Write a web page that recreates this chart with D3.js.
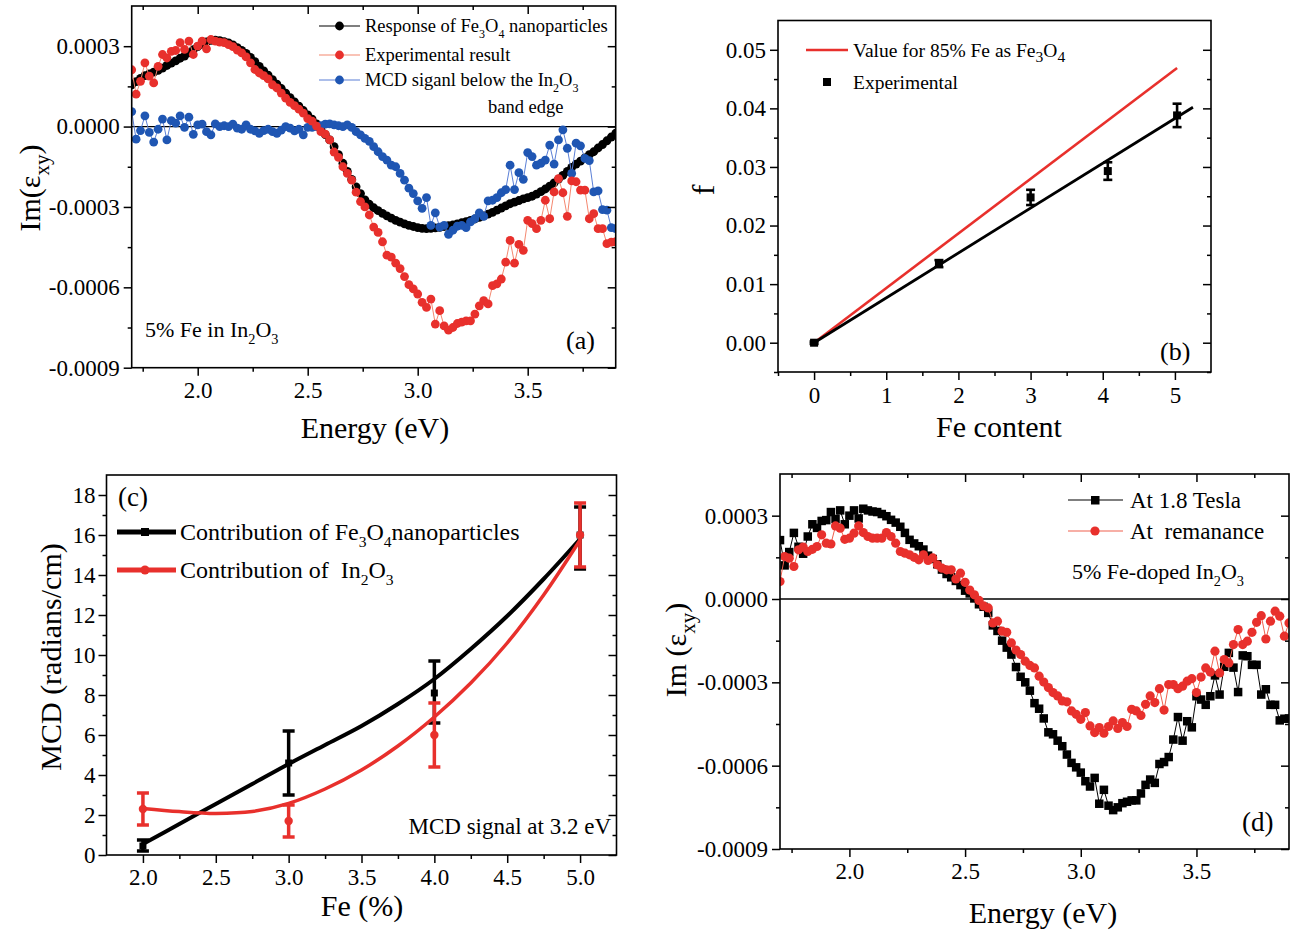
<!DOCTYPE html>
<html><head><meta charset="utf-8">
<script src="https://cdn.jsdelivr.net/npm/d3@7"></script>
<style>
html,body{margin:0;padding:0;background:#fff;}
svg text{font-family:"Liberation Serif","Times New Roman",serif;fill:#000;white-space:pre;}
</style></head><body>
<script>
// ---------- DATA ----------
// Photon energy grid (eV) for panels (a) and (d)
const energy = [
 1.70,1.72,1.74,1.76,1.78,1.80,1.82,1.84,1.86,1.88,
 1.90,1.92,1.94,1.96,1.98,2.00,2.02,2.04,2.06,2.08,
 2.10,2.12,2.14,2.16,2.18,2.20,2.22,2.24,2.26,2.28,
 2.30,2.32,2.34,2.36,2.38,2.40,2.42,2.44,2.46,2.48,
 2.50,2.52,2.54,2.56,2.58,2.60,2.62,2.64,2.66,2.68,
 2.70,2.72,2.74,2.76,2.78,2.80,2.82,2.84,2.86,2.88,
 2.90,2.92,2.94,2.96,2.98,3.00,3.02,3.04,3.06,3.08,
 3.10,3.12,3.14,3.16,3.18,3.20,3.22,3.24,3.26,3.28,
 3.30,3.32,3.34,3.36,3.38,3.40,3.42,3.44,3.46,3.48,
 3.50,3.52,3.54,3.56,3.58,3.60,3.62,3.64,3.66,3.68,
 3.70,3.72,3.74,3.76,3.78,3.80,3.82,3.84,3.86,3.88,
 3.90];
// Im(eps_xy) in units of 1e-4
// (a) Response of Fe3O4 nanoparticles
const aFe3O4 = [
 1.56,1.68,1.80,1.90,1.97,2.03,2.10,2.18,2.28,2.37,
 2.45,2.55,2.63,2.75,2.87,2.98,3.08,3.16,3.22,3.23,
 3.21,3.17,3.12,3.05,2.95,2.84,2.73,2.58,2.42,2.25,
 2.08,1.92,1.75,1.58,1.42,1.25,1.08,0.92,0.76,0.60,
 0.44,0.28,0.10,-0.10,-0.30,-0.50,-0.75,-1.05,-1.37,-1.67,
 -1.97,-2.25,-2.50,-2.74,-2.90,-3.03,-3.14,-3.24,-3.33,-3.42,
 -3.50,-3.57,-3.63,-3.69,-3.73,-3.77,-3.80,-3.81,-3.80,-3.78,
 -3.76,-3.73,-3.70,-3.67,-3.63,-3.59,-3.55,-3.50,-3.45,-3.39,
 -3.33,-3.27,-3.20,-3.12,-3.04,-2.96,-2.88,-2.82,-2.76,-2.70,
 -2.65,-2.60,-2.52,-2.43,-2.33,-2.22,-2.10,-1.96,-1.82,-1.67,
 -1.52,-1.40,-1.29,-1.17,-1.05,-0.94,-0.80,-0.67,-0.53,-0.39,
 -0.25];
// (a) Experimental result  == (d) At 1.8 Tesla
const aExperimental = [
 2.12,1.21,1.69,2.38,1.88,1.63,2.25,2.69,2.56,2.81,
 2.84,3.13,2.88,3.19,2.69,3.00,3.19,2.90,3.25,3.19,
 3.15,3.13,3.06,2.98,2.85,2.75,2.60,2.38,2.13,2.00,
 1.90,1.78,1.56,1.44,1.25,1.06,0.90,0.78,0.65,0.50,
 0.30,0.20,0.02,-0.19,-0.28,-0.50,-0.95,-1.15,-1.50,-1.75,
 -2.00,-2.45,-2.80,-3.00,-3.30,-3.75,-3.95,-4.30,-4.80,-4.87,
 -5.10,-5.30,-5.60,-5.90,-6.06,-6.25,-6.56,-6.75,-6.44,-7.37,
 -6.87,-7.44,-7.60,-7.50,-7.35,-7.30,-7.25,-7.25,-7.00,-6.69,
 -6.50,-6.62,-5.94,-5.87,-5.69,-5.06,-4.25,-5.10,-4.40,-4.62,
 -3.50,-3.62,-3.81,-3.50,-2.75,-3.44,-2.44,-1.94,-2.47,-3.35,
 -2.03,-2.06,-2.37,-2.37,-3.44,-3.25,-3.81,-3.81,-4.37,-4.31,
 -4.30];
// (a) MCD signal below the In2O3 band edge
const aBelowEdge = [
 0.56,-0.47,-0.15,0.40,-0.22,-0.58,-0.10,0.28,-0.50,0.22,
 0.13,0.40,-0.03,0.35,-0.29,0.06,0.09,-0.19,-0.31,0.10,
 0.00,0.03,0.00,0.09,-0.06,-0.10,0.06,-0.10,-0.16,-0.25,
 -0.15,-0.10,-0.19,-0.25,-0.13,0.00,-0.06,-0.16,-0.10,-0.31,
 -0.03,-0.03,0.00,0.03,0.09,0.10,0.06,0.03,0.00,0.06,
 -0.03,-0.19,-0.31,-0.44,-0.55,-0.75,-0.94,-1.12,-1.25,-1.44,
 -1.50,-1.75,-2.00,-2.30,-2.50,-2.77,-3.05,-2.65,-3.69,-3.22,
 -3.75,-3.69,-4.02,-3.87,-3.72,-3.69,-3.77,-3.56,-3.44,-3.22,
 -3.35,-2.77,-2.75,-2.65,-2.47,-2.35,-1.44,-2.35,-1.72,-1.97,
 -0.97,-1.12,-1.44,-1.37,-1.25,-0.69,-1.40,-0.50,-0.12,-0.81,
 -1.75,-0.62,-0.72,-1.19,-1.27,-2.44,-2.40,-3.10,-3.12,-3.77,
 -3.81];
// (d) At 1.8 Tesla (same measurement as (a) experimental)
const dTesla = aExperimental;
// (d) At remanance
const dRemanance = [
 0.63,1.53,1.47,1.17,1.77,1.87,1.71,1.79,1.89,2.31,
 2.01,1.98,2.63,2.55,2.15,2.19,2.37,2.63,2.39,2.25,
 2.19,2.19,2.19,2.39,2.25,2.01,1.71,1.65,1.59,1.50,
 1.41,1.59,1.39,1.48,1.23,1.11,1.05,1.05,0.72,0.93,
 0.60,0.32,0.15,-0.05,-0.25,-0.32,-0.86,-0.80,-1.16,-1.20,
 -1.58,-1.84,-2.00,-2.24,-2.39,-2.48,-2.78,-2.99,-3.19,-3.37,
 -3.49,-3.67,-3.70,-4.03,-4.15,-4.33,-4.09,-4.57,-4.81,-4.63,
 -4.83,-4.59,-4.39,-4.66,-4.45,-4.59,-3.97,-4.03,-4.19,-3.79,
 -3.49,-3.73,-3.23,-4.00,-3.08,-3.08,-3.23,-3.14,-2.96,-2.87,
 -3.37,-2.81,-2.48,-2.63,-1.88,-2.66,-2.18,-2.30,-1.64,-1.10,
 -1.64,-1.52,-1.20,-0.84,-0.60,-1.44,-0.80,-0.44,-0.62,-1.34,
 -0.86];
const imTicks = [-9,-6,-3,0,3];
const imTickLabels = ["-0.0009","-0.0006","-0.0003","0.0000","0.0003"];
const imMinor = [-7.5,-4.5,-1.5,1.5];
const eTicks = [2.0,2.5,3.0,3.5];
const eTickLabels = ["2.0","2.5","3.0","3.5"];
const eMinor = [1.75,2.25,2.75,3.25,3.75];

// (b) f vs Fe content
const bFe = [0, 1.73, 3.0, 4.07, 5.03];
const bF = [0, 0.0135, 0.0248, 0.0293, 0.0388];
const bErr = [0.0002, 0.0006, 0.0013, 0.0015, 0.0020];
const bFitX = [0, 5.25];
const bFitY = [0, 0.0402];
const b85X = [0, 5.03];
const b85Y = [0, 0.0469];
const bXTicks = [0,1,2,3,4,5];
const bXMinor = [-0.5,0.5,1.5,2.5,3.5,4.5];
const bYTicks = [0,0.01,0.02,0.03,0.04,0.05];
const bYTickLabels = ["0.00","0.01","0.02","0.03","0.04","0.05"];
const bYMinor = [-0.005,0.005,0.015,0.025,0.035,0.045];

// (c) MCD at 3.2 eV vs Fe (%)
const cFe = [2.0, 3.0, 4.0, 5.0];
const cFe3O4 = [0.45, 4.6, 8.1, 16.0];
const cFe3O4Lo = [0.2, 3.0, 6.6, 14.3];
const cFe3O4Hi = [0.75, 6.2, 9.7, 17.4];
const cIn2O3 = [2.3, 1.7, 6.0, 16.0];
const cIn2O3Lo = [1.5, 0.9, 4.4, 14.4];
const cIn2O3Hi = [3.1, 2.5, 7.6, 17.6];
const cFitX = [2.0,2.25,2.5,2.75,3.0,3.25,3.5,3.75,4.0,4.25,4.5,4.75,5.0];
const cFe3O4Fit = [0.55,1.55,2.55,3.55,4.55,5.5,6.45,7.55,8.8,10.3,11.95,13.8,15.8];
const cIn2O3Fit = [2.33,2.17,2.08,2.17,2.58,3.3,4.25,5.45,6.9,8.6,10.6,13.0,15.75];
const cXTicks = [2.0,2.5,3.0,3.5,4.0,4.5,5.0];
const cXTickLabels = ["2.0","2.5","3.0","3.5","4.0","4.5","5.0"];
const cXMinor = [2.25,2.75,3.25,3.75,4.25,4.75];
const cYTicks = [0,2,4,6,8,10,12,14,16,18];
const cYMinor = [1,3,5,7,9,11,13,15,17];

// ---------- DRAW ----------
const RED = "#e8302c", BLUE = "#1f56b3";
const SERIF = "'Liberation Serif','Times New Roman',serif";
const svg = d3.select("body").append("svg").attr("width",1290).attr("height",936);
svg.append("rect").attr("width",1290).attr("height",936).attr("fill","#fff");

function rich(parent,x,y,parts,size,anchor){
  const t = parent.append("text").attr("x",x).attr("y",y).attr("font-size",size)
    .attr("text-anchor",anchor||"start").style("font-family",SERIF);
  let cur = 0;
  parts.forEach(p=>{
    const isSub = typeof p !== "string";
    const s = isSub ? p.s : p;
    const off = isSub ? (p.off!=null ? p.off : 0.3)*size : 0;
    const ts = t.append("tspan").attr("dy", off-cur).text(s);
    if (isSub) ts.attr("font-size",(p.k||0.65)*size);
    cur = off;
  });
  return t;
}
function vlabel(x,y,parts,size){
  const g = svg.append("g").attr("transform",`translate(${x},${y}) rotate(-90)`);
  rich(g,0,0,parts,size,"middle");
}
function labelMap(vals,labels){ const m=new Map(vals.map((v,i)=>[v,labels[i]])); return d=>m.get(d); }

function frame(x,y,o){
  const g = svg.append("g");
  const [x0,x1] = x.range(), [yb,yt] = y.range();
  const ax = (gen,tx,ty,vals,size,fmt,pad)=>{
    const a = g.append("g").attr("transform",`translate(${tx},${ty})`)
      .call(gen.tickValues(vals).tickSize(size).tickPadding(pad==null?4:pad).tickFormat(fmt||(()=>"")));
    a.select(".domain").remove();
    a.attr("font-family",null).attr("font-size",null);
    a.selectAll("line").attr("stroke","#000").attr("stroke-width",1.5);
    a.selectAll("text").attr("font-size",o.tickFont||23).attr("fill","#000").style("font-family",SERIF);
    return a;
  };
  ax(d3.axisBottom(x),0,yb,o.xMajor,8,o.xFmt,o.xPad);
  ax(d3.axisBottom(x),0,yb,o.xMinor,4);
  ax(d3.axisLeft(y),x0,0,o.yMajor,8,o.yFmt,o.yPad);
  ax(d3.axisLeft(y),x0,0,o.yMinor,4);
  ax(d3.axisRight(y),x1,0,o.yMajor,-8);
  ax(d3.axisRight(y),x1,0,o.yMinor,-4);
  if (o.top){ ax(d3.axisTop(x),0,yt,o.xMajor,-8); ax(d3.axisTop(x),0,yt,o.xMinor,-4); }
  g.append("rect").attr("x",x0).attr("y",yt).attr("width",x1-x0).attr("height",yb-yt)
    .attr("fill","none").attr("stroke","#000").attr("stroke-width",1.6);
  return g;
}
function clipped(id,x,y){
  const [x0,x1]=x.range(), [yb,yt]=y.range();
  svg.append("clipPath").attr("id",id).append("rect").attr("x",x0).attr("y",yt).attr("width",x1-x0).attr("height",yb-yt);
  return svg.append("g").attr("clip-path",`url(#${id})`);
}
function series(g,x,y,xs,ys,opt){
  const line = d3.line().x((d,i)=>x(xs[i])).y(d=>y(d));
  g.append("path").datum(ys).attr("d",line).attr("fill","none")
    .attr("stroke",opt.line).attr("stroke-width",opt.lw||1);
  if (opt.shape==="square"){
    g.selectAll(null).data(ys).enter().append("rect")
      .attr("x",(d,i)=>x(xs[i])-opt.size/2).attr("y",d=>y(d)-opt.size/2)
      .attr("width",opt.size).attr("height",opt.size).attr("fill",opt.fill);
  } else {
    g.selectAll(null).data(ys).enter().append("circle")
      .attr("cx",(d,i)=>x(xs[i])).attr("cy",d=>y(d)).attr("r",opt.size).attr("fill",opt.fill);
  }
}

// ===== Panel (a) =====
{
  const x = d3.scaleLinear().domain([1.7,3.9]).range([131.7,615.7]);
  const y = d3.scaleLinear().domain([-9,4.5]).range([367.7,6]);
  const g = clipped("clipA",x,y);
  g.append("line").attr("x1",x(1.7)).attr("x2",x(3.9)).attr("y1",y(0)).attr("y2",y(0)).attr("stroke","#000").attr("stroke-width",1.3);
  series(g,x,y,energy,aFe3O4,{line:"#000",fill:"#000",size:4.4});
  series(g,x,y,energy,aBelowEdge,{line:"#5a7fd6",fill:BLUE,size:4.4});
  series(g,x,y,energy,aExperimental,{line:"#f4876f",fill:RED,size:4.4});
  frame(x,y,{xMajor:eTicks,xMinor:eMinor,yMajor:imTicks,yMinor:imMinor,top:true,
    xFmt:labelMap(eTicks,eTickLabels),yFmt:labelMap(imTicks,imTickLabels),xPad:6,yPad:4});
  // legend
  const L = svg.append("g");
  const rows = [
    {y:26,line:"#000",fill:"#000",parts:["Response of Fe",{s:"3"},"O",{s:"4"}," nanoparticles"]},
    {y:55,line:"#f4876f",fill:RED,parts:["Experimental result"]},
    {y:80,line:"#5a7fd6",fill:BLUE,parts:["MCD siganl below the In",{s:"2"},"O",{s:"3"}]}
  ];
  rows.forEach(r=>{
    L.append("line").attr("x1",319).attr("x2",360).attr("y1",r.y).attr("y2",r.y).attr("stroke",r.line).attr("stroke-width",1.2);
    L.append("circle").attr("cx",339.5).attr("cy",r.y).attr("r",4.4).attr("fill",r.fill);
    rich(L,365,r.y+6,r.parts,18.5);
  });
  rich(L,488,113,["band edge"],18.5);
  rich(svg,145,337,["5% Fe in In",{s:"2"},"O",{s:"3"}],22);
  rich(svg,566,349,["(a)"],26);
  rich(svg,375,438,["Energy (eV)"],30,"middle");
  vlabel(40,188,["Im(ε",{s:"xy",off:0.3,k:0.7},")"],30);
}

// ===== Panel (b) =====
{
  const x = d3.scaleLinear().domain([-0.5,5.5]).range([778,1211]);
  const y = d3.scaleLinear().domain([-0.005,0.055]).range([372,20.5]);
  const g = svg.append("g");
  const ln = d3.line().x(d=>x(d[0])).y(d=>y(d[1]));
  g.append("path").datum(b85X.map((v,i)=>[v,b85Y[i]])).attr("d",ln).attr("stroke",RED).attr("stroke-width",2.6).attr("fill","none");
  g.append("path").datum(bFitX.map((v,i)=>[v,bFitY[i]])).attr("d",ln).attr("stroke","#000").attr("stroke-width",2.8).attr("fill","none");
  bFe.forEach((v,i)=>{
    const cx=x(v), lo=y(bF[i]-bErr[i]), hi=y(bF[i]+bErr[i]);
    g.append("line").attr("x1",cx).attr("x2",cx).attr("y1",lo).attr("y2",hi).attr("stroke","#000").attr("stroke-width",2.6);
    [lo,hi].forEach(yy=>g.append("line").attr("x1",cx-4.5).attr("x2",cx+4.5).attr("y1",yy).attr("y2",yy).attr("stroke","#000").attr("stroke-width",2.6));
  });
  g.selectAll(null).data(bF).enter().append("rect")
    .attr("x",(d,i)=>x(bFe[i])-4).attr("y",d=>y(d)-4).attr("width",8).attr("height",8).attr("fill","#000");
  frame(x,y,{xMajor:bXTicks,xMinor:bXMinor,yMajor:bYTicks,yMinor:bYMinor,
    xFmt:d=>String(d),yFmt:labelMap(bYTicks,bYTickLabels),xPad:7,yPad:4});
  svg.append("line").attr("x1",806).attr("x2",848).attr("y1",50).attr("y2",50).attr("stroke",RED).attr("stroke-width",2.6);
  rich(svg,853,57,["Value for 85% Fe as Fe",{s:"3",k:0.8,off:0.25},"O",{s:"4",k:0.8,off:0.25}],19.5);
  svg.append("rect").attr("x",823).attr("y",78).attr("width",8).attr("height",8).attr("fill","#000");
  rich(svg,853,89,["Experimental"],19.5);
  rich(svg,1160,360,["(b)"],26);
  rich(svg,999,437,["Fe content"],30,"middle");
  vlabel(714,190,["f"],32);
}

// ===== Panel (c) =====
{
  const x = d3.scaleLinear().domain([1.75,5.25]).range([106.5,616.5]);
  const y = d3.scaleLinear().domain([0,19]).range([855,475]);
  const g = svg.append("g");
  const curve = d3.line().curve(d3.curveCatmullRom.alpha(0.5)).x((d,i)=>x(cFitX[i])).y(d=>y(d));
  function errs(lo,hi,col){
    cFe.forEach((v,i)=>{
      const cx=x(v);
      g.append("line").attr("x1",cx).attr("x2",cx).attr("y1",y(lo[i])).attr("y2",y(hi[i])).attr("stroke",col).attr("stroke-width",3.5);
      [lo[i],hi[i]].forEach(t=>g.append("line").attr("x1",cx-6).attr("x2",cx+6).attr("y1",y(t)).attr("y2",y(t)).attr("stroke",col).attr("stroke-width",3.5));
    });
  }
  g.append("path").datum(cFe3O4Fit).attr("d",curve).attr("fill","none").attr("stroke","#000").attr("stroke-width",4);
  errs(cFe3O4Lo,cFe3O4Hi,"#000");
  g.selectAll(null).data(cFe3O4).enter().append("rect")
    .attr("x",(d,i)=>x(cFe[i])-3.5).attr("y",d=>y(d)-3.5).attr("width",7).attr("height",7).attr("fill","#000");
  g.append("path").datum(cIn2O3Fit).attr("d",curve).attr("fill","none").attr("stroke",RED).attr("stroke-width",3.5);
  errs(cIn2O3Lo,cIn2O3Hi,RED);
  g.selectAll(null).data(cIn2O3).enter().append("circle")
    .attr("cx",(d,i)=>x(cFe[i])).attr("cy",d=>y(d)).attr("r",4.2).attr("fill",RED);
  frame(x,y,{xMajor:cXTicks,xMinor:cXMinor,yMajor:cYTicks,yMinor:cYMinor,
    xFmt:labelMap(cXTicks,cXTickLabels),yFmt:d=>String(d),xPad:6,yPad:3});
  // legend
  svg.append("line").attr("x1",117).attr("x2",176).attr("y1",532).attr("y2",532).attr("stroke","#000").attr("stroke-width",5);
  svg.append("rect").attr("x",141).attr("y",528).attr("width",8).attr("height",8).attr("fill","#000");
  rich(svg,180,540,["Contribution of Fe",{s:"3"},"O",{s:"4"},"nanoparticles"],24);
  svg.append("line").attr("x1",117).attr("x2",176).attr("y1",570).attr("y2",570).attr("stroke",RED).attr("stroke-width",5);
  svg.append("circle").attr("cx",145).attr("cy",570).attr("r",4.5).attr("fill",RED);
  rich(svg,180,578,["Contribution of  In",{s:"2"},"O",{s:"3"}],24);
  rich(svg,118,506,["(c)"],27);
  rich(svg,611,834,["MCD signal at 3.2 eV"],23,"end");
  rich(svg,362,916,["Fe (%)"],30,"middle");
  vlabel(61,657,["MCD (radians/cm)"],30);
}

// ===== Panel (d) =====
{
  const x = d3.scaleLinear().domain([1.7,3.9]).range([780,1289]);
  const y = d3.scaleLinear().domain([-9,4.5]).range([849,474]);
  const g = clipped("clipD",x,y);
  g.append("line").attr("x1",x(1.7)).attr("x2",x(3.9)).attr("y1",y(0)).attr("y2",y(0)).attr("stroke","#000").attr("stroke-width",1.3);
  series(g,x,y,energy,dTesla,{line:"#000",fill:"#000",size:8.5,shape:"square"});
  series(g,x,y,energy,dRemanance,{line:"#f0604e",fill:RED,size:4.6});
  frame(x,y,{xMajor:eTicks,xMinor:eMinor,yMajor:imTicks,yMinor:imMinor,top:true,
    xFmt:labelMap(eTicks,eTickLabels),yFmt:labelMap(imTicks,imTickLabels),xPad:6,yPad:4});
  svg.append("line").attr("x1",1068).attr("x2",1123).attr("y1",500).attr("y2",500).attr("stroke","#000").attr("stroke-width",1.2);
  svg.append("rect").attr("x",1091).attr("y",496).attr("width",8.5).attr("height",8.5).attr("fill","#000");
  rich(svg,1130,508,["At 1.8 Tesla"],23);
  svg.append("line").attr("x1",1068).attr("x2",1123).attr("y1",531).attr("y2",531).attr("stroke","#f0604e").attr("stroke-width",1.2);
  svg.append("circle").attr("cx",1095).attr("cy",531).attr("r",4.6).attr("fill",RED);
  rich(svg,1130,539,["At  remanance"],23);
  rich(svg,1072,579,["5% Fe-doped In",{s:"2"},"O",{s:"3"}],22);
  rich(svg,1242,831,["(d)"],27);
  rich(svg,1043,923,["Energy (eV)"],30,"middle");
  vlabel(686,650,["Im (ε",{s:"xy",off:0.3,k:0.7},")"],30);
}
</script>
</body></html>
